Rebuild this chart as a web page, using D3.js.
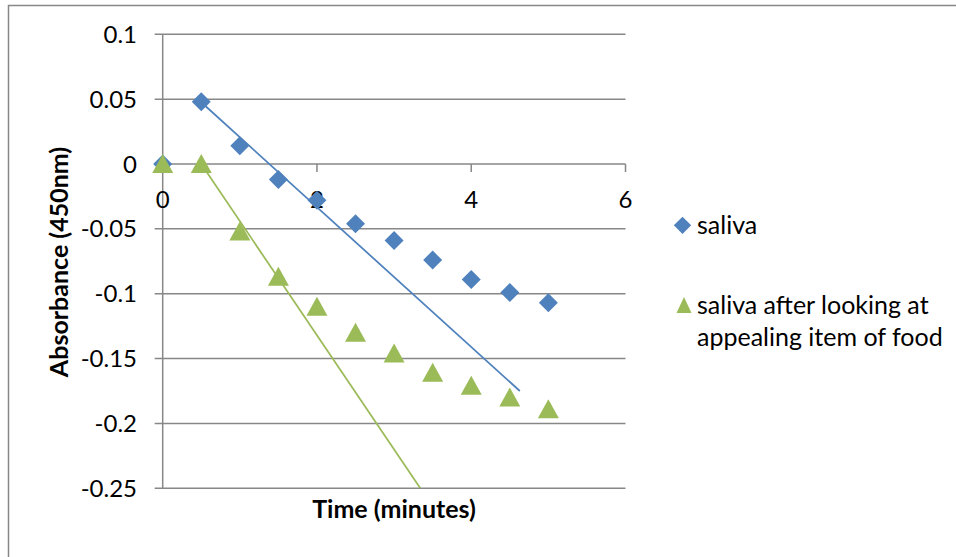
<!DOCTYPE html>
<html>
<head>
<meta charset="utf-8">
<script src="https://cdnjs.cloudflare.com/ajax/libs/d3/7.8.5/d3.min.js"></script>
<style>
  body { margin: 0; background: #fff; }
  svg { display: block; font-family: Lato, "Open Sans", sans-serif; }
</style>
</head>
<body>
<svg id="chart" width="956" height="557"></svg>
<script>
// time in minutes
var times = [0, 0.5, 1, 1.5, 2, 2.5, 3, 3.5, 4, 4.5, 5];
var saliva = [0, 0.048, 0.014, -0.012, -0.028, -0.046, -0.059, -0.074, -0.089, -0.099, -0.107];
var salivaFood = [0, 0, -0.052, -0.087, -0.110, -0.130, -0.146, -0.161, -0.171, -0.180, -0.189];

// trend lines as drawn (start / end)
var salivaTrend = [[0.5, 0.0476], [4.63, -0.175]];
var foodTrend = [[0.5, 0], [3.34, -0.25]];

var xTicks = [0, 2, 4, 6];
var yTicks = [0.1, 0.05, 0, -0.05, -0.1, -0.15, -0.2, -0.25];
var seriesNames = ["saliva", "saliva after looking at appealing item of food"];

var blue = "#4f81bd", green = "#9bbb59", grid = "#878787";

var svg = d3.select("#chart");

// outer frame (only top and left are visible)
svg.append("path")
    .attr("d", "M8.5,557 V5.5 H956")
    .attr("fill", "none")
    .attr("stroke", grid)
    .attr("stroke-width", 1.5);

var x = d3.scaleLinear().domain([0, 6]).range([162.7, 625.5]);
var y = d3.scaleLinear().domain([-0.25, 0.1]).range([488.3, 34.3]);

// horizontal gridlines (include the left tick stub)
svg.append("g").selectAll("line")
    .data(yTicks)
    .enter().append("line")
    .attr("x1", x(0) - 8)
    .attr("x2", x(6))
    .attr("y1", function(d){ return y(d); })
    .attr("y2", function(d){ return y(d); })
    .attr("stroke", grid)
    .attr("stroke-width", 1.5);

// y axis line
svg.append("line")
    .attr("x1", x(0)).attr("x2", x(0))
    .attr("y1", y(0.1)).attr("y2", y(-0.25))
    .attr("stroke", grid).attr("stroke-width", 1.5);

// y tick labels
svg.append("g").selectAll("text")
    .data(yTicks)
    .enter().append("text")
    .attr("x", 137)
    .attr("y", function(d){ return y(d) + 8.5; })
    .attr("text-anchor", "end")
    .style("font-size", "24px")
    .attr("fill", "#000")
    .text(function(d){ return d; });

// x axis ticks at y=0
svg.append("g").selectAll("line")
    .data(xTicks)
    .enter().append("line")
    .attr("x1", function(d){ return x(d); })
    .attr("x2", function(d){ return x(d); })
    .attr("y1", y(0))
    .attr("y2", y(0) + 8)
    .attr("stroke", grid)
    .attr("stroke-width", 1.5);

svg.append("g").selectAll("text")
    .data(xTicks)
    .enter().append("text")
    .attr("x", function(d){ return x(d); })
    .attr("y", y(0) + 44)
    .attr("text-anchor", "middle")
    .style("font-size", "24px")
    .attr("fill", "#000")
    .text(function(d){ return d; });

// trend lines, clipped to the plot
svg.append("clipPath").attr("id", "plotClip")
    .append("rect")
    .attr("x", x(0)).attr("y", y(0.1))
    .attr("width", x(6) - x(0)).attr("height", y(-0.25) - y(0.1));

var line = d3.line()
    .x(function(d){ return x(d[0]); })
    .y(function(d){ return y(d[1]); });

svg.append("path")
    .datum(salivaTrend)
    .attr("d", line)
    .attr("clip-path", "url(#plotClip)")
    .attr("fill", "none").attr("stroke", blue).attr("stroke-width", 1.75);

svg.append("path")
    .datum(foodTrend)
    .attr("d", line)
    .attr("clip-path", "url(#plotClip)")
    .attr("fill", "none").attr("stroke", green).attr("stroke-width", 1.75);

// markers
var diamond = d3.symbol().type(d3.symbolSquare).size(180);
var triangle = "M0,-10 L10.5,9 L-10.5,9 Z";

svg.append("g").selectAll("path")
    .data(times)
    .enter().append("path")
    .attr("d", diamond)
    .attr("transform", function(d, i){
        return "translate(" + x(d) + "," + y(saliva[i]) + ") rotate(45)";
    })
    .attr("fill", blue);

svg.append("g").selectAll("path")
    .data(times)
    .enter().append("path")
    .attr("d", triangle)
    .attr("transform", function(d, i){
        return "translate(" + x(d) + "," + y(salivaFood[i]) + ")";
    })
    .attr("fill", green);

// axis titles
svg.append("text")
    .attr("x", 394)
    .attr("y", 518)
    .attr("text-anchor", "middle")
    .style("font-size", "25px")
    .style("font-weight", "bold")
    .text("Time (minutes)");

svg.append("text")
    .attr("transform", "translate(68,262) rotate(-90)")
    .attr("text-anchor", "middle")
    .style("font-size", "25px")
    .style("font-weight", "bold")
    .text("Absorbance (450nm)");

// legend
var leg = svg.append("g");
leg.append("path")
    .attr("d", d3.symbol().type(d3.symbolSquare).size(150))
    .attr("transform", "translate(682.5,225.3) rotate(45)")
    .attr("fill", blue);
leg.append("text")
    .attr("x", 697).attr("y", 233.5)
    .style("font-size", "25px")
    .text(seriesNames[0]);

leg.append("path")
    .attr("d", "M0,-8 L7.5,8 L-7.5,8 Z")
    .attr("transform", "translate(684,305)")
    .attr("fill", green);
var t2 = leg.append("text")
    .attr("x", 697).attr("y", 314)
    .style("font-size", "25px");
t2.append("tspan").attr("x", 697).text("saliva after looking at");
t2.append("tspan").attr("x", 697).attr("dy", 32).text("appealing item of food");
</script>
</body>
</html>
